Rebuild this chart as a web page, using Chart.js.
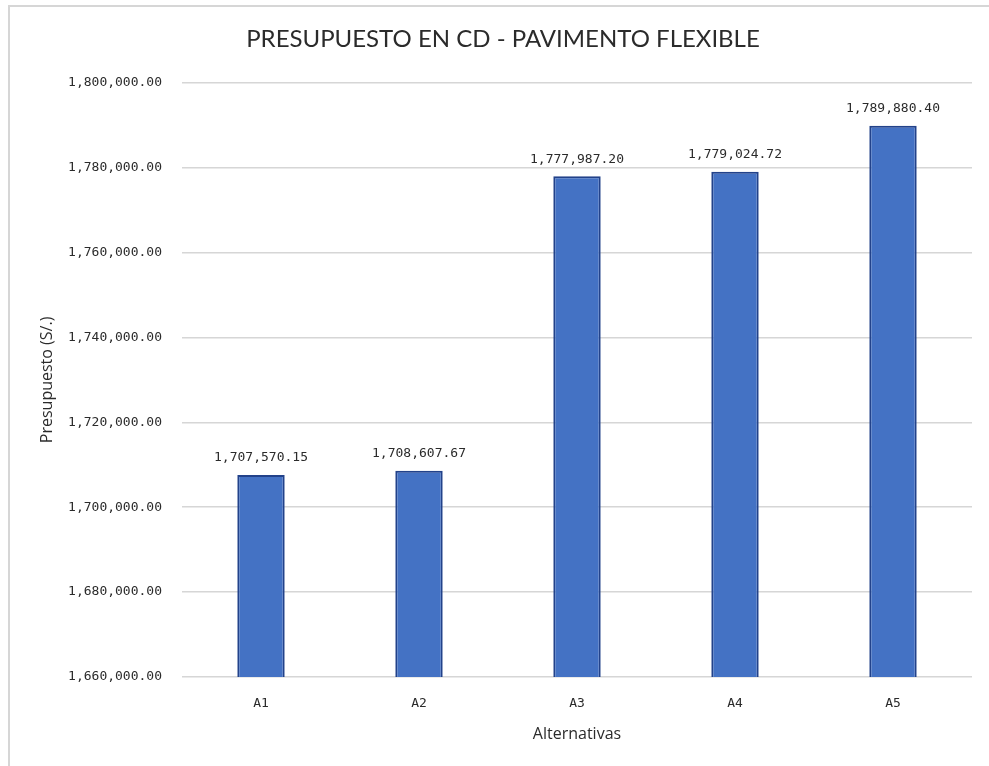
<!DOCTYPE html>
<html>
<head>
<meta charset="utf-8">
<script src="https://cdn.jsdelivr.net/npm/chart.js@4"></script>
<style>
  html, body { margin: 0; padding: 0; background: #ffffff; overflow: hidden; }
  #frame { position: absolute; left: 8px; top: 5px; width: 1200px; height: 1000px;
           border-left: 2px solid #d6d6d6; border-top: 2px solid #d6d6d6; }
  #c { position: absolute; left: 0; top: 0; }
</style>
</head>
<body>
<div id="frame"></div>
<canvas id="c" width="989" height="766"></canvas>
<script>
const categories = ['A1', 'A2', 'A3', 'A4', 'A5'];
const budgetValues = [1707570.15, 1708607.67, 1777987.20, 1779024.72, 1789880.40];
const yTickValues = [1660000, 1680000, 1700000, 1720000, 1740000, 1760000, 1780000, 1800000];
const chartTitle = 'PRESUPUESTO EN CD - PAVIMENTO FLEXIBLE';
const yAxisTitle = 'Presupuesto (S/.)';
const xAxisTitle = 'Alternativas';

const fmt = v => v.toLocaleString('en-US', { minimumFractionDigits: 2, maximumFractionDigits: 2 });
const monoFont = { family: '"DejaVu Sans Mono", monospace', size: 13 };

const barLabels = {
  id: 'barLabels',
  afterDatasetsDraw(chart) {
    const ctx = chart.ctx;
    const meta = chart.getDatasetMeta(0);
    ctx.save();
    ctx.font = '13px "DejaVu Sans Mono", monospace';
    ctx.fillStyle = '#2b2b2b';
    ctx.textAlign = 'center';
    ctx.textBaseline = 'middle';
    meta.data.forEach((bar, i) => {
      ctx.fillText(fmt(budgetValues[i]), bar.x, bar.y - 17);
    });
    ctx.restore();
  }
};

new Chart(document.getElementById('c'), {
  type: 'bar',
  data: {
    labels: categories,
    datasets: [{
      data: budgetValues,
      backgroundColor: '#4472C4',
      borderColor: '#22428A',
      borderWidth: 2,
      borderSkipped: false,
      barPercentage: 0.6,
      categoryPercentage: 0.5
    }]
  },
  options: {
    responsive: false,
    animation: false,
    layout: { padding: { left: 34, right: 17, top: 0, bottom: 0 } },
    plugins: {
      legend: { display: false },
      tooltip: { enabled: false },
      title: {
        display: true,
        text: chartTitle,
        color: '#2b2b2b',
        font: { family: 'Lato', size: 24, weight: 'normal' },
        padding: { top: 25, bottom: 29 }
      }
    },
    scales: {
      x: {
        grid: { display: false },
        border: { display: false },
        ticks: { color: '#2b2b2b', font: monoFont, padding: 11 },
        title: {
          display: true, text: xAxisTitle, color: '#2b2b2b',
          font: { family: 'Open Sans', size: 16 },
          padding: { top: 22, bottom: 22 }
        },
        afterFit(scale) { scale.height = 89; }
      },
      y: {
        min: 1660000,
        max: 1800000,
        afterBuildTicks(scale) { scale.ticks = yTickValues.map(v => ({ value: v })); },
        grid: { color: '#d6d6d6', lineWidth: 1.5, drawTicks: false },
        border: { display: false },
        ticks: { color: '#2b2b2b', font: monoFont, padding: 20, callback: v => fmt(v) },
        title: {
          display: true, text: yAxisTitle, color: '#2b2b2b',
          font: { family: 'Open Sans', size: 16 },
          padding: { top: 4, bottom: 4 }
        },
        afterFit(scale) { scale.width = 148; }
      }
    }
  },
  plugins: [barLabels]
});
</script>
</body>
</html>
